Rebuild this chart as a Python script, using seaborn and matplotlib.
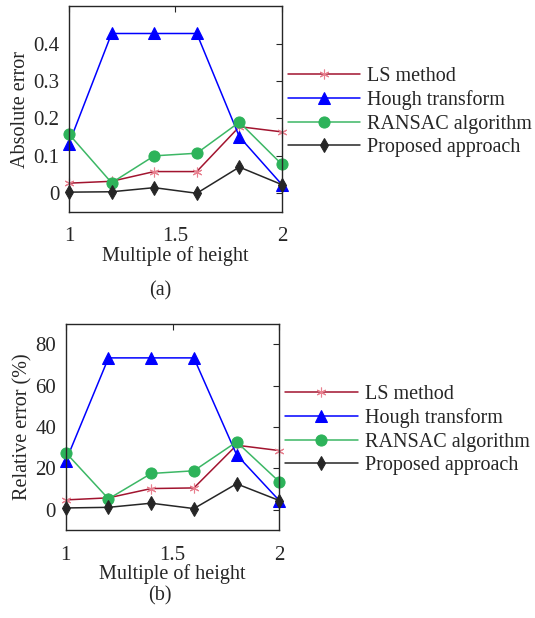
import matplotlib
matplotlib.use("Agg")
import matplotlib.pyplot as plt
import numpy as np
import pandas as pd
import seaborn as sns

# data
multiples = [1.0, 1.2, 1.4, 1.6, 1.8, 2.0]
methods = ["LS method", "Hough transform", "RANSAC algorithm", "Proposed approach"]

abs_ls = [0.027, 0.032, 0.058, 0.058, 0.178, 0.164]
abs_hough = [0.133, 0.427, 0.427, 0.427, 0.151, 0.023]
abs_ransac = [0.158, 0.028, 0.100, 0.107, 0.190, 0.077]
abs_proposed = [0.003, 0.004, 0.015, 0.000, 0.070, 0.023]

rel_ls = [4.7, 5.7, 10.2, 10.5, 31.2, 28.6]
rel_hough = [23.5, 73.5, 73.5, 73.5, 26.6, 4.4]
rel_ransac = [27.6, 5.2, 17.5, 18.8, 32.8, 13.5]
rel_proposed = [0.8, 1.1, 3.1, 0.5, 12.5, 4.4]

styles = {
    "LS method": dict(color="#A2142F", marker=(6, 2, 0), markersize=7,
                      markeredgecolor="#E8808F", markerfacecolor="none", markeredgewidth=0.8),
    "Hough transform": dict(color="#0000FF", marker="^", markersize=8.5,
                            markeredgecolor="#0000FF", markerfacecolor="#0000FF"),
    "RANSAC algorithm": dict(color="#3CB765", marker="o", markersize=8,
                             markeredgecolor="#2DB35A", markerfacecolor="#2DB35A"),
    "Proposed approach": dict(color="#262626", marker="d", markersize=7.5,
                              markeredgecolor="#262626", markerfacecolor="#262626"),
}

sns.set_theme(style="white")
plt.rcParams["font.family"] = ["Liberation Serif", "DejaVu Serif"]
plt.rcParams["mathtext.fontset"] = "stix"

fig = plt.figure(figsize=(5.35, 6.18), dpi=100)
ax_a = fig.add_axes([0.129, 0.657, 0.398, 0.333])
ax_b = fig.add_axes([0.123, 0.142, 0.399, 0.334])

panels = [
    (ax_a, [abs_ls, abs_hough, abs_ransac, abs_proposed], "Absolute error",
     (-0.05, 0.5), [0, 0.1, 0.2, 0.3, 0.4], ["0", "0.1", "0.2", "0.3", "0.4"]),
    (ax_b, [rel_ls, rel_hough, rel_ransac, rel_proposed], "Relative error (%)",
     (-10, 90), [0, 20, 40, 60, 80], ["0", "20", "40", "60", "80"]),
]

for ax, series, ylabel, ylim, yticks, yticklabels in panels:
    for name, vals in zip(methods, series):
        df = pd.DataFrame({"x": multiples, "y": vals})
        sns.lineplot(data=df, x="x", y="y", ax=ax, label=name, linewidth=1.1,
                     clip_on=False, **styles[name])
    ax.set_xlim(1, 2)
    ax.set_ylim(*ylim)
    ax.set_xticks([1, 1.5, 2])
    ax.set_xticklabels(["1", "1.5", "2"])
    ax.set_yticks(yticks)
    ax.set_yticklabels(yticklabels)
    ax.set_xlabel("Multiple of height", fontsize=14.5, color="#262626", labelpad=0)
    ax.set_ylabel(ylabel, fontsize=14.5, color="#262626", labelpad=2)
    ax.tick_params(axis="y", direction="in", length=4, width=0.8, right=True,
                   labelsize=15, colors="#262626", pad=7)
    ax.tick_params(axis="x", direction="in", length=4, width=0.8, top=True,
                   labelsize=15, colors="#262626", pad=11)
    for s in ax.spines.values():
        s.set_color("#262626")
        s.set_linewidth(1.0)
    ax.legend(loc="center left", bbox_to_anchor=(0.99, 0.485), frameon=False,
              fontsize=14.5, handlelength=3.6, handletextpad=0.35,
              labelspacing=0.22, borderaxespad=0.0)

fig.text(0.299, 0.529, "(a)", ha="center", va="center", fontsize=14.5, color="#262626")
fig.text(0.299, 0.036, "(b)", ha="center", va="center", fontsize=14.5, color="#262626")

plt.savefig("out.png", dpi=100)
